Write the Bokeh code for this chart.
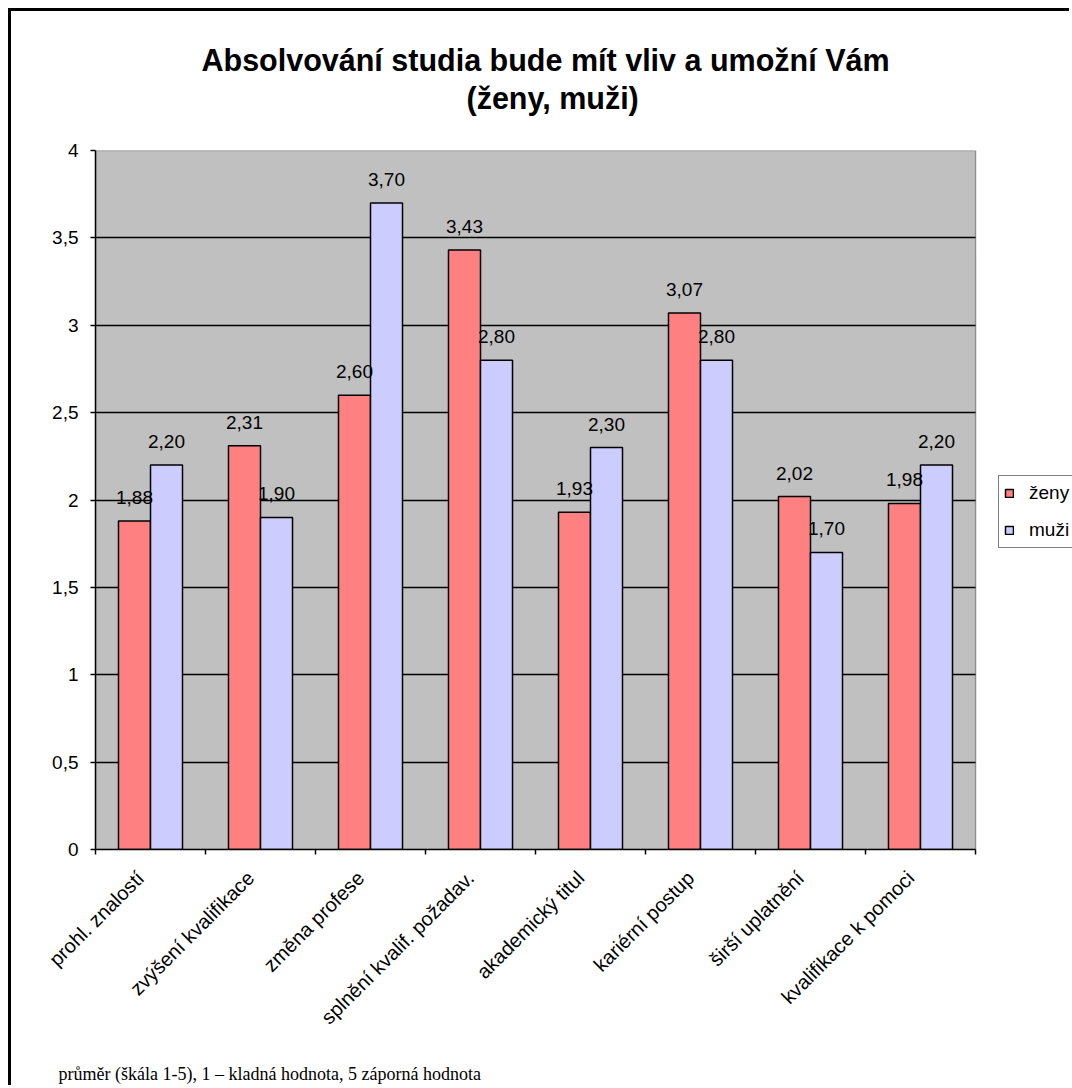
import numpy as np
from bokeh.plotting import figure
from bokeh.models import (ColumnDataSource, Range1d, FixedTicker, LabelSet, Title,
                          Legend, LegendItem, BoxAnnotation)
from bokeh.transform import dodge
from bokeh.core.properties import value
from bokeh.embed import file_html
from bokeh.resources import INLINE

# ---------------- data ----------------
categories = ["prohl. znalostí", "zvýšení kvalifikace", "změna profese",
              "splnění kvalif. požadav.", "akademický titul", "kariérní postup",
              "širší uplatnění", "kvalifikace k pomoci"]
zeny = [1.88, 2.31, 2.60, 3.43, 1.93, 3.07, 2.02, 1.98]
muzi = [2.20, 1.90, 3.70, 2.80, 2.30, 2.80, 1.70, 2.20]
series_names = ["ženy", "muži"]
y_ticks = [0, 0.5, 1, 1.5, 2, 2.5, 3, 3.5, 4]
title_lines = ["Absolvování studia bude mít vliv a umožní Vám", "(ženy, muži)"]
footnote = "průměr (škála 1-5), 1 – kladná hodnota, 5 záporná hodnota"

# ---------------- styling / layout ----------------
RED = "#FF8080"
BLUE = "#CCCCFF"
FONT = "Liberation Sans"
FS = "19px"
BAR_W = 0.291
OFF = BAR_W / 2
LBL_SHIFT = 0.09
CANVAS_W, CANVAS_H = 1061, 1077
BORDER_L, BORDER_T, BORDER_B = 84, 139, 238
PLOT_AREA_W = 880                      # width of the grey plot area in px
FRAME_W = CANVAS_W - BORDER_L          # frame also hosts the legend on the right


def fmt(v):
    return f"{v:.2f}".replace(".", ",")


n = len(categories)
y_max = y_ticks[-1]
centers = [i + 0.5 for i in range(n)]
src = ColumnDataSource(dict(
    x=centers, zeny=zeny, muzi=muzi,
    zeny_lbl=[fmt(v) for v in zeny], muzi_lbl=[fmt(v) for v in muzi],
))

p = figure(width=CANVAS_W, height=CANVAS_H, output_backend="svg", toolbar_location=None,
           title=None,
           x_range=Range1d(0, n * FRAME_W / PLOT_AREA_W), y_range=Range1d(0, y_max),
           min_border_left=BORDER_L, min_border_right=0, min_border_top=BORDER_T,
           min_border_bottom=BORDER_B)
p.styles = {"margin-left": "8px", "margin-top": "8px",
            "border-left": "3px solid black", "border-top": "3px solid black"}
p.background_fill_color = "white"
p.border_fill_color = "white"
p.outline_line_color = None

# grey plot area
p.add_layout(BoxAnnotation(left=0, right=n, bottom=0, top=y_max, level="image",
                           fill_color="#C0C0C0", fill_alpha=1,
                           line_color="#909090", line_width=1.5, line_alpha=1))

# grid
p.xgrid.visible = False
p.ygrid.ticker = FixedTicker(ticks=[t for t in y_ticks if 0 < t < y_max])
p.ygrid.cross_bounds = (0, n)
p.ygrid.grid_line_color = "black"
p.ygrid.grid_line_width = 1.3

# bars
r1 = p.vbar(x=dodge("x", -OFF, range=p.x_range), top="zeny", width=BAR_W, source=src,
            fill_color=RED, line_color="black", line_width=1.5)
r2 = p.vbar(x=dodge("x", OFF, range=p.x_range), top="muzi", width=BAR_W, source=src,
            fill_color=BLUE, line_color="black", line_width=1.5)

# data labels
for col, off in (("zeny_lbl", -OFF), ("muzi_lbl", OFF)):
    ycol = col.replace("_lbl", "")
    p.add_layout(LabelSet(x=dodge("x", off, range=p.x_range), y=ycol, text=col, source=src,
                          y_offset=17, text_align="center", text_baseline="alphabetic",
                          text_font=value(FONT), text_font_size=value(FS),
                          text_color="black"))

# y axis
yax = p.yaxis[0]
yax.ticker = FixedTicker(ticks=y_ticks)
yax.major_label_overrides = {t: f"{t:g}".replace(".", ",") for t in y_ticks}
yax.axis_line_color = "black"
yax.axis_line_width = 1.5
yax.major_tick_out = 5
yax.major_tick_in = 0
yax.major_tick_line_color = "black"
yax.major_tick_line_width = 1.5
yax.minor_tick_line_color = None
yax.major_label_text_font = FONT
yax.major_label_text_font_size = FS
yax.major_label_text_color = "black"
yax.major_label_standoff = 12

# x axis (labels at category centres, ticks at category boundaries)
lbl_pos = [c - LBL_SHIFT for c in centers]
xax = p.xaxis[0]
xax.bounds = (0, n)
xax.ticker = FixedTicker(ticks=lbl_pos, minor_ticks=list(range(n + 1)))
xax.major_label_overrides = {c: lab for c, lab in zip(lbl_pos, categories)}
xax.major_label_orientation = np.pi / 4
xax.axis_line_color = "black"
xax.axis_line_width = 1.5
xax.major_tick_line_color = None
xax.major_tick_out = 0
xax.major_tick_in = 0
xax.minor_tick_line_color = "black"
xax.minor_tick_line_width = 1.5
xax.minor_tick_out = 5
xax.minor_tick_in = 0
xax.major_label_text_font = FONT
xax.major_label_text_font_size = "20px"
xax.major_label_text_color = "black"
xax.major_label_standoff = 20

# titles: spacer nearest the frame, then line 2, then line 1
p.add_layout(Title(text=" ", text_font_size="1px", standoff=31), "above")
p.add_layout(Title(text=title_lines[1], align="left", offset=371, text_font=FONT,
                   text_font_size="30.5px", text_font_style="bold", text_color="black",
                   standoff=3), "above")
p.add_layout(Title(text=title_lines[0], align="left", offset=106, text_font=FONT,
                   text_font_size="30.5px", text_font_style="bold", text_color="black",
                   standoff=2), "above")

# footnote: spacer below the axis, then the note
p.add_layout(Title(text=" ", text_font_size="1px", standoff=18), "below")
p.add_layout(Title(text=footnote, align="left", offset=-37, vertical_align="top",
                   text_font="Liberation Serif", text_font_size="18px",
                   text_font_style="normal", text_color="black", standoff=6), "below")

# legend (inside the frame, to the right of the grey plot area)
legend = Legend(items=[LegendItem(label=series_names[0], renderers=[r1]),
                       LegendItem(label=series_names[1], renderers=[r2])],
                location=(PLOT_AREA_W + 23, 301), orientation="vertical",
                border_line_color="black", border_line_width=1,
                background_fill_color="white", background_fill_alpha=1,
                glyph_width=10, glyph_height=10, label_standoff=15,
                label_height=24, spacing=13, padding=5, margin=0,
                label_text_font=FONT, label_text_font_size=FS, label_text_color="black")
p.add_layout(legend)

open("out.html", "w").write(file_html(p, INLINE))
